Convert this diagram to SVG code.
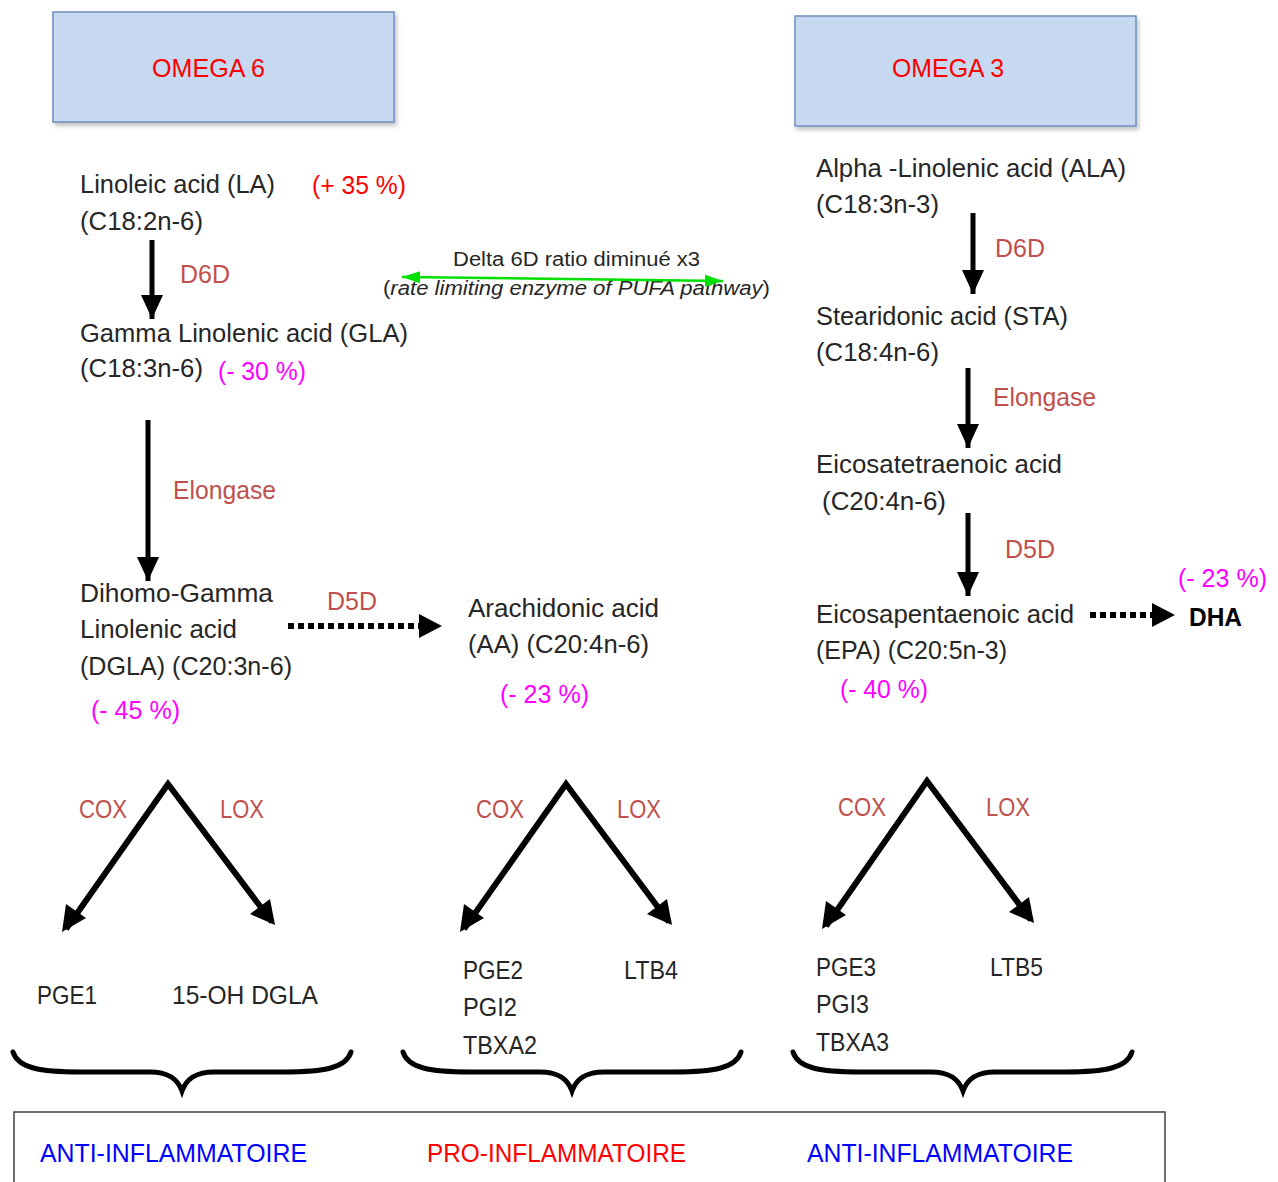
<svg xmlns="http://www.w3.org/2000/svg" width="1278" height="1182" viewBox="0 0 1278 1182">
<style>
text{font-family:"Liberation Sans",Arial,sans-serif;font-size:25px;fill:#262626}
.hd{fill:#ff0000;font-size:25px}
.enz{fill:#c0504d}
.mag{fill:#ff00ff}
.red{fill:#ff0000}
.blue{fill:#0000ff}
.sm{font-size:20px}
.it{font-style:italic}
.box{fill:#c6d9f1;stroke:#6c8ebf;stroke-width:1.5}
.sh{stroke:#000;stroke-width:5;fill:none}
.dg{stroke:#000;stroke-width:6;fill:none}
.dot{stroke:#000;stroke-width:6;stroke-dasharray:6 4;fill:none}
.br{stroke:#000;stroke-width:5;fill:none;stroke-linecap:round}
.head{fill:#000}
</style>
<defs>
<filter id="shadow" x="-5%" y="-5%" width="115%" height="125%">
<feDropShadow dx="2" dy="3" stdDeviation="2" flood-color="#000" flood-opacity="0.25"/>
</filter>
<marker id="ah" markerUnits="userSpaceOnUse" markerWidth="26" markerHeight="24" refX="24" refY="12" orient="auto">
<path d="M0,1 L24,12 L0,23 Z" fill="#000"/>
</marker>
<marker id="gh" markerUnits="userSpaceOnUse" markerWidth="20" markerHeight="14" refX="18" refY="7" orient="auto-start-reverse">
<path d="M0,1 L18,7 L0,13 Z" fill="#00e000"/>
</marker>
</defs>

<g id="omega6">
<rect class="box" x="53" y="12" width="341" height="110" filter="url(#shadow)"/>
<text class="hd" x="152" y="77" textLength="113" lengthAdjust="spacingAndGlyphs">OMEGA 6</text>
</g>
<g id="omega3">
<rect class="box" x="795" y="16" width="341" height="110" filter="url(#shadow)"/>
<text class="hd" x="892" y="77" textLength="112" lengthAdjust="spacingAndGlyphs">OMEGA 3</text>
</g>

<g id="la">
<text x="80" y="193" textLength="195" lengthAdjust="spacingAndGlyphs">Linoleic acid (LA)</text>
<text x="80" y="230" textLength="123" lengthAdjust="spacingAndGlyphs">(C18:2n-6)</text>
<text class="red" x="312" y="194" textLength="94" lengthAdjust="spacingAndGlyphs">(+ 35 %)</text>
</g>
<g id="gla">
<text x="80" y="342" textLength="328" lengthAdjust="spacingAndGlyphs">Gamma Linolenic acid (GLA)</text>
<text x="80" y="377" textLength="123" lengthAdjust="spacingAndGlyphs">(C18:3n-6)</text>
<text class="mag" x="218" y="380" textLength="88" lengthAdjust="spacingAndGlyphs">(- 30 %)</text>
</g>
<g id="dgla">
<text x="80" y="602" textLength="193" lengthAdjust="spacingAndGlyphs">Dihomo-Gamma</text>
<text x="80" y="638" textLength="157" lengthAdjust="spacingAndGlyphs">Linolenic acid</text>
<text x="80" y="675" textLength="212" lengthAdjust="spacingAndGlyphs">(DGLA) (C20:3n-6)</text>
<text class="mag" x="91" y="719" textLength="89" lengthAdjust="spacingAndGlyphs">(- 45 %)</text>
</g>
<g id="aa">
<text x="468" y="617" textLength="191" lengthAdjust="spacingAndGlyphs">Arachidonic acid</text>
<text x="468" y="653" textLength="181" lengthAdjust="spacingAndGlyphs">(AA) (C20:4n-6)</text>
<text class="mag" x="500" y="703" textLength="89" lengthAdjust="spacingAndGlyphs">(- 23 %)</text>
</g>
<g id="d6d-note">
<text class="sm" x="453" y="266" textLength="247" lengthAdjust="spacingAndGlyphs">Delta 6D ratio diminué x3</text>
<text class="sm" x="383" y="295" textLength="387" lengthAdjust="spacingAndGlyphs">(<tspan class="it">rate limiting enzyme of PUFA pathway</tspan>)</text>
</g>

<g id="ala">
<text x="816" y="177" textLength="310" lengthAdjust="spacingAndGlyphs">Alpha -Linolenic acid (ALA)</text>
<text x="816" y="213" textLength="123" lengthAdjust="spacingAndGlyphs">(C18:3n-3)</text>
</g>
<g id="sta">
<text x="816" y="325" textLength="252" lengthAdjust="spacingAndGlyphs">Stearidonic acid (STA)</text>
<text x="816" y="361" textLength="123" lengthAdjust="spacingAndGlyphs">(C18:4n-6)</text>
</g>
<g id="eta">
<text x="816" y="473" textLength="246" lengthAdjust="spacingAndGlyphs">Eicosatetraenoic acid</text>
<text x="822" y="510" textLength="124" lengthAdjust="spacingAndGlyphs">(C20:4n-6)</text>
</g>
<g id="epa">
<text x="816" y="623" textLength="258" lengthAdjust="spacingAndGlyphs">Eicosapentaenoic acid</text>
<text x="816" y="659" textLength="191" lengthAdjust="spacingAndGlyphs">(EPA) (C20:5n-3)</text>
<text class="mag" x="840" y="698" textLength="88" lengthAdjust="spacingAndGlyphs">(- 40 %)</text>
</g>
<g id="dha">
<text x="1189" y="626" font-weight="bold" textLength="53" lengthAdjust="spacingAndGlyphs" style="fill:#000">DHA</text>
<text class="mag" x="1178" y="587" textLength="89" lengthAdjust="spacingAndGlyphs">(- 23 %)</text>
</g>

<g id="products1">
<text x="37" y="1004" textLength="60" lengthAdjust="spacingAndGlyphs">PGE1</text>
<text x="172" y="1004" textLength="146" lengthAdjust="spacingAndGlyphs">15-OH DGLA</text>
</g>
<g id="products2">
<text x="463" y="979" textLength="60" lengthAdjust="spacingAndGlyphs">PGE2</text>
<text x="463" y="1016" textLength="54" lengthAdjust="spacingAndGlyphs">PGI2</text>
<text x="463" y="1054" textLength="74" lengthAdjust="spacingAndGlyphs">TBXA2</text>
<text x="624" y="979" textLength="54" lengthAdjust="spacingAndGlyphs">LTB4</text>
</g>
<g id="products3">
<text x="816" y="976" textLength="60" lengthAdjust="spacingAndGlyphs">PGE3</text>
<text x="816" y="1013" textLength="53" lengthAdjust="spacingAndGlyphs">PGI3</text>
<text x="816" y="1051" textLength="73" lengthAdjust="spacingAndGlyphs">TBXA3</text>
<text x="990" y="976" textLength="53" lengthAdjust="spacingAndGlyphs">LTB5</text>
</g>

<g id="connectors">
<line class="sh" x1="152" y1="240" x2="152" y2="319" marker-end="url(#ah)"/>
<line class="sh" x1="148" y1="420" x2="148" y2="581" marker-end="url(#ah)"/>
<line class="sh" x1="973" y1="213" x2="973" y2="294" marker-end="url(#ah)"/>
<line class="sh" x1="968" y1="368" x2="968" y2="448" marker-end="url(#ah)"/>
<line class="sh" x1="968" y1="513" x2="968" y2="596" marker-end="url(#ah)"/>
<line class="dot" x1="288" y1="626" x2="420" y2="626"/>
<path class="head" d="M419,614 L442,626 L419,638 Z"/>
<line class="dot" x1="1090" y1="615" x2="1153" y2="615"/>
<path class="head" d="M1152,603 L1175,615 L1152,627 Z"/>
<line x1="402" y1="277" x2="723" y2="281" stroke="#00e000" stroke-width="2.5" marker-start="url(#gh)" marker-end="url(#gh)"/>
<polyline class="dg" points="66,929 168,784 272,922" stroke-linejoin="miter"/>
<polyline class="dg" points="464,929 566,784 669,922"/>
<polyline class="dg" points="826,926 927,781 1031,920"/>
<path class="head" d="M62,932 L66,904 L86,918 Z"/>
<path class="head" d="M275,925 L250,914 L270,899 Z"/>
<path class="head" d="M460,932 L464,904 L484,918 Z"/>
<path class="head" d="M672,925 L647,914 L667,899 Z"/>
<path class="head" d="M822,929 L826,901 L846,915 Z"/>
<path class="head" d="M1034,923 L1009,912 L1029,897 Z"/>
</g>

<g id="labels">
<text class="enz" x="180" y="283" textLength="50" lengthAdjust="spacingAndGlyphs">D6D</text>
<text class="enz" x="173" y="499" textLength="103" lengthAdjust="spacingAndGlyphs">Elongase</text>
<text class="enz" x="327" y="610" textLength="50" lengthAdjust="spacingAndGlyphs">D5D</text>
<text class="enz" x="995" y="257" textLength="50" lengthAdjust="spacingAndGlyphs">D6D</text>
<text class="enz" x="993" y="406" textLength="103" lengthAdjust="spacingAndGlyphs">Elongase</text>
<text class="enz" x="1005" y="558" textLength="50" lengthAdjust="spacingAndGlyphs">D5D</text>
<text class="enz" x="79" y="818" textLength="48" lengthAdjust="spacingAndGlyphs">COX</text>
<text class="enz" x="220" y="818" textLength="44" lengthAdjust="spacingAndGlyphs">LOX</text>
<text class="enz" x="476" y="818" textLength="48" lengthAdjust="spacingAndGlyphs">COX</text>
<text class="enz" x="617" y="818" textLength="44" lengthAdjust="spacingAndGlyphs">LOX</text>
<text class="enz" x="838" y="816" textLength="48" lengthAdjust="spacingAndGlyphs">COX</text>
<text class="enz" x="986" y="816" textLength="44" lengthAdjust="spacingAndGlyphs">LOX</text>
</g>

<g id="braces">
<path class="br" d="M13,1052 C18,1068 40,1072 80,1072 L150,1072 C170,1072 178,1080 182,1091 C186,1080 194,1072 214,1072 L284,1072 C324,1072 346,1068 351,1052"/>
<path class="br" d="M403,1052 C408,1068 430,1072 470,1072 L540,1072 C560,1072 568,1080 572,1091 C576,1080 584,1072 604,1072 L674,1072 C714,1072 736,1068 741,1052"/>
<path class="br" d="M793,1052 C798,1068 820,1072 860,1072 L931,1072 C951,1072 959,1080 963,1091 C967,1080 975,1072 995,1072 L1065,1072 C1105,1072 1127,1068 1132,1052"/>
</g>

<g id="summary">
<rect x="14" y="1112" width="1151" height="90" fill="none" stroke="#404040" stroke-width="1.5"/>
<text class="blue" x="40" y="1162" textLength="267" lengthAdjust="spacingAndGlyphs">ANTI-INFLAMMATOIRE</text>
<text class="red" x="427" y="1162" textLength="259" lengthAdjust="spacingAndGlyphs">PRO-INFLAMMATOIRE</text>
<text class="blue" x="807" y="1162" textLength="266" lengthAdjust="spacingAndGlyphs">ANTI-INFLAMMATOIRE</text>
</g>
</svg>
